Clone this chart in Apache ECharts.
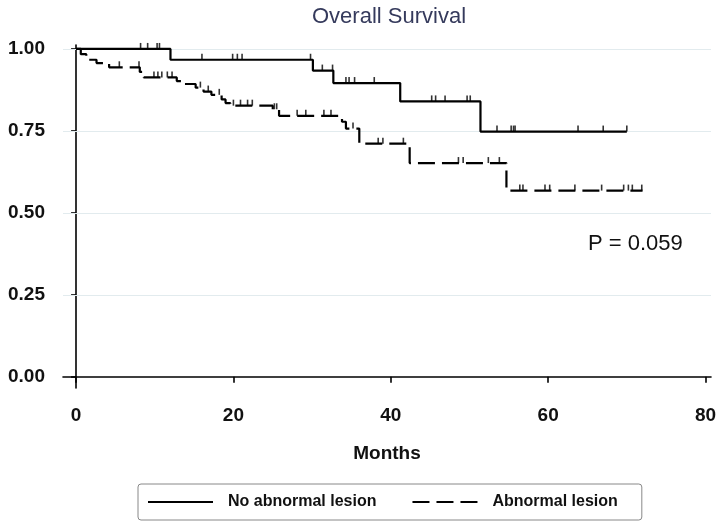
<!DOCTYPE html>
<html><head><meta charset="utf-8">
<script src="https://cdn.jsdelivr.net/npm/echarts@6/dist/echarts.min.js"></script>
<style>html,body{margin:0;padding:0;background:#fff}#c{width:720px;height:522px}</style>
</head><body><div id="c"></div>
<script>
// ---- data ----
const seriesNames = ['No abnormal lesion', 'Abnormal lesion'];
const noLesionTimes = [0, 12.0, 30.1, 32.7, 41.2, 51.4];
const noLesionSurv  = [1.0, 0.967, 0.934, 0.896, 0.840, 0.748];
const noLesionEnd = 70.0;
const noLesionCensor = [8.2, 9.1, 10.3, 10.6, 16.0, 19.9, 20.5, 21.1, 29.8, 31.3, 32.6, 34.3, 34.7, 35.4, 37.9, 45.2, 45.7, 46.9, 49.7, 50.1, 53.5, 55.3, 55.6, 55.8, 63.8, 67.0, 70.0];

const lesionTimes = [0, 0.6, 1.3, 2.6, 4.2, 8.1, 8.6, 12.8, 13.5, 15.2, 16.2, 17.2, 18.5, 19.0, 19.6, 25.0, 25.8, 33.8, 34.3, 36.0, 42.4, 54.7];
const lesionSurv  = [1.0, 0.984, 0.967, 0.957, 0.944, 0.930, 0.913, 0.902, 0.893, 0.882, 0.870, 0.860, 0.846, 0.835, 0.827, 0.816, 0.796, 0.778, 0.757, 0.711, 0.652, 0.568];
const lesionEnd = 72.0;
const lesionCensor = [5.5, 8.0, 9.9, 10.4, 10.9, 11.6, 12.2, 15.8, 16.8, 18.2, 20.0, 20.9, 21.8, 22.4, 25.2, 25.5, 28.1, 29.2, 31.5, 32.4, 35.2, 38.4, 39.0, 41.6, 48.6, 49.2, 52.4, 53.8, 56.4, 56.8, 59.6, 60.2, 63.4, 66.8, 69.6, 70.2, 70.7, 71.9];

const xTicks = [0, 20, 40, 60, 80];
const yTicks = [0, 0.25, 0.5, 0.75, 1];
const titleText = 'Overall Survival';
const xAxisName = 'Months';
const pText = 'P = 0.059';

// ---- helpers ----
function stepPoints(times, surv, end) {
  const pts = [];
  for (let i = 0; i < times.length; i++) {
    if (i > 0) pts.push([times[i], surv[i - 1]]);
    pts.push([times[i], surv[i]]);
  }
  pts.push([end, surv[surv.length - 1]]);
  return pts;
}
function levelAt(times, surv, t) {
  let s = surv[0];
  for (let i = 0; i < times.length; i++) if (times[i] <= t) s = surv[i];
  return s;
}
function censorPoints(times, surv, cens) {
  return cens.map(t => [t, levelAt(times, surv, t)]);
}

const FONT = 'Liberation Sans, Arial, Helvetica, sans-serif';
const chart = echarts.init(document.getElementById('c'), null, {renderer: 'canvas'});
const censorStyle = {
  type: 'scatter', symbol: 'rect', symbolSize: [1.6, 6], symbolOffset: [0, -3],
  itemStyle: {color: '#000'}, silent: true, z: 3
};
chart.setOption({
  animation: false,
  backgroundColor: '#fff',
  textStyle: {fontFamily: FONT},
  title: [
    {text: titleText, left: 307, top: 1, textStyle: {fontFamily: FONT, fontSize: 22, fontWeight: 'normal', color: '#353a5c'}},
    {text: pText, left: 583, top: 228, textStyle: {fontFamily: FONT, fontSize: 22, fontWeight: 'normal', color: '#111'}}
  ],
  grid: {left: 63, right: 9, top: 45, bottom: 134, containLabel: false, outerBoundsMode: 'none'},
  xAxis: {
    type: 'value', min: -1.66, max: 80.7,
    axisLine: {show: true, lineStyle: {color: '#000', width: 1.6}},
    axisTick: {show: true, customValues: xTicks, length: 6, lineStyle: {color: '#000', width: 1.6}},
    axisLabel: {customValues: xTicks, fontSize: 19, fontWeight: 'bold', color: '#111', margin: 18, fontFamily: FONT},
    splitLine: {show: false},
    name: xAxisName, nameLocation: 'middle', nameGap: 56,
    nameTextStyle: {fontSize: 19, fontWeight: 'bold', color: '#111', fontFamily: FONT}
  },
  yAxis: {
    type: 'value', min: -0.034, max: 1.012,
    axisLine: {show: true, lineStyle: {color: '#000', width: 1.6}},
    axisTick: {show: true, customValues: yTicks, length: 5, lineStyle: {color: '#000', width: 1.6}},
    axisLabel: {customValues: yTicks, formatter: v => v.toFixed(2), fontSize: 19, fontWeight: 'bold', color: '#111', margin: 18, fontFamily: FONT},
    splitLine: {show: false}
  },
  legend: {
    data: seriesNames,
    left: 138, top: 484,
    borderColor: '#888', borderWidth: 1, borderRadius: 3,
    padding: [10, 24, 10, 9],
    itemWidth: 65, itemHeight: 14, itemGap: 35,
    itemStyle: {opacity: 0},
    textStyle: {fontSize: 16, fontWeight: 'bold', color: '#111', fontFamily: FONT, padding: [0, 0, 0, 10]}
  },
  series: [
    {
      name: seriesNames[0], type: 'line', data: stepPoints(noLesionTimes, noLesionSurv, noLesionEnd),
      symbol: 'none', lineStyle: {color: '#000', width: 2.2}, itemStyle: {color: '#000'}, z: 2,
      markLine: {
        silent: true, symbol: 'none', z: 1, label: {show: false},
        lineStyle: {color: '#e2ebee', width: 1, type: 'solid'},
        data: yTicks.filter(v => v > 0).map(v => ({yAxis: v}))
      }
    },
    {
      name: seriesNames[1], type: 'line', data: stepPoints(lesionTimes, lesionSurv, lesionEnd),
      symbol: 'none', lineStyle: {color: '#000', width: 2.2, type: [17, 7]}, itemStyle: {color: '#000'}, z: 2
    },
    Object.assign({name: seriesNames[0] + ' censored', data: censorPoints(noLesionTimes, noLesionSurv, noLesionCensor)}, censorStyle),
    Object.assign({name: seriesNames[1] + ' censored', data: censorPoints(lesionTimes, lesionSurv, lesionCensor)}, censorStyle)
  ]
});
</script>
</body></html>
